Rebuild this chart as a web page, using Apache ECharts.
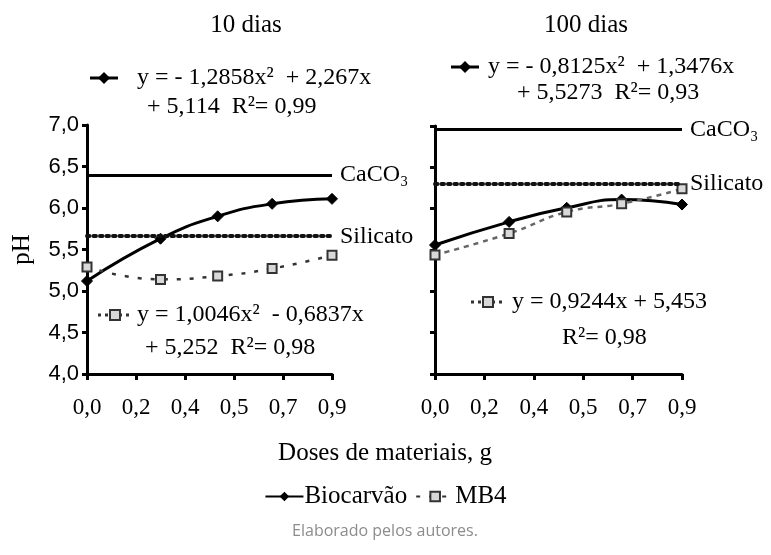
<!DOCTYPE html>
<html>
<head>
<meta charset="utf-8">
<script src="https://cdn.jsdelivr.net/npm/echarts@6/dist/echarts.min.js"></script>
<style>
  html, body { margin: 0; padding: 0; background: #fff; }
  #chart { width: 771px; height: 555px; }
</style>
</head>
<body>
<div id="chart"></div>
<script>
// Doses (g) and measured pH
const doses = [0, 0.27, 0.48, 0.68, 0.9];
const biocarvao10 = [5.12, 5.63, 5.90, 6.05, 6.11];
const mb4_10 = [5.29, 5.14, 5.18, 5.27, 5.43];
const biocarvao100 = [5.56, 5.84, 6.01, 6.11, 6.05];
const mb4_100 = [5.44, 5.70, 5.96, 6.06, 6.24];

// Reference treatments, [10 dias, 100 dias]
const caco3Level = [6.40, 6.96];
const silicatoLevel = [5.66, 6.30];

// Axis ticks
const xStep = 0.18;
const xTickLabels = ['0,0', '0,2', '0,4', '0,5', '0,7', '0,9'];
const yTickLabels = ['4,0', '4,5', '5,0', '5,5', '6,0', '6,5', '7,0'];

const panelTitles = ['10 dias', '100 dias'];
const seriesNames = ['Biocarvão', 'MB4'];

// Regression equations
const eqBio10 = ['y = - 1,2858x²  + 2,267x', '+ 5,114  R²= 0,99'];
const eqMb10 = ['y = 1,0046x²  - 0,6837x', '+ 5,252  R²= 0,98'];
const eqBio100 = ['y = - 0,8125x²  + 1,3476x', '+ 5,5273  R²= 0,93'];
const eqMb100 = ['y = 0,9244x + 5,453', 'R²= 0,98'];

const SERIF = '"Liberation Serif", "DejaVu Serif", serif';
const SANS = '"Liberation Sans", Arial, sans-serif';

const pairs = (ys) => doses.map((d, i) => [d, ys[i]]);

function xAxisFor(gridIndex) {
  return {
    type: 'value', gridIndex, min: 0, max: 0.9, interval: xStep,
    axisLine: { lineStyle: { color: '#000', width: 3 } },
    axisTick: { show: true, length: 6, lineStyle: { color: '#000', width: 3 } },
    axisLabel: {
      margin: 22, color: '#000', fontFamily: SERIF, fontSize: 23,
      formatter: (v) => xTickLabels[Math.round(v / xStep)]
    },
    splitLine: { show: false }
  };
}

function yAxisFor(gridIndex, showLabels) {
  return {
    type: 'value', gridIndex, min: 4, max: 7, interval: 0.5,
    name: showLabels ? 'pH' : '',
    nameLocation: 'middle', nameGap: 52,
    nameTextStyle: { fontFamily: SERIF, fontSize: 25, color: '#000' },
    axisLine: { show: true, lineStyle: { color: '#000', width: 3 } },
    axisTick: { show: true, length: 5, lineStyle: { color: '#000', width: 3 } },
    axisLabel: {
      show: showLabels, margin: 8, color: '#000', fontFamily: SANS, fontSize: 22,
      formatter: (v) => yTickLabels[Math.round((v - 4) / 0.5)]
    },
    splitLine: { show: false }
  };
}

function refLines(caco3, silicato) {
  const lab = { show: true, position: 'end', distance: 8, color: '#000', fontFamily: SERIF, fontSize: 24 };
  return {
    silent: true, symbol: ['none', 'none'], animation: false,
    data: [
      { yAxis: caco3, lineStyle: { color: '#000', width: 3, type: 'solid' },
        label: Object.assign({}, lab, { formatter: 'CaCO₃' }) },
      { yAxis: silicato, lineStyle: { color: '#111', width: 4, type: [2.5, 4], cap: 'round' },
        label: Object.assign({}, lab, { formatter: 'Silicato' }) }
    ]
  };
}

const bioStyle = {
  type: 'line', smooth: true, symbol: 'diamond', symbolSize: 11,
  lineStyle: { color: '#000', width: 3 },
  itemStyle: { color: '#000', borderColor: '#000' }
};
const mbMarker = {
  symbol: 'rect', symbolSize: 9,
  itemStyle: { color: '#d8d8d8', borderColor: '#333', borderWidth: 2 }
};

// Small legend key drawn beside each equation
function keyBio(cx, cy) {
  return {
    type: 'group', children: [
      { type: 'line', shape: { x1: cx - 14, y1: cy, x2: cx + 14, y2: cy }, style: { stroke: '#000', lineWidth: 3 } },
      { type: 'polygon', shape: { points: [[cx, cy - 6], [cx + 6, cy], [cx, cy + 6], [cx - 6, cy]] }, style: { fill: '#000' } }
    ]
  };
}
function keyMb(cx, cy) {
  return {
    type: 'group', children: [
      { type: 'line', shape: { x1: cx - 17, y1: cy, x2: cx + 17, y2: cy }, style: { stroke: '#333', lineWidth: 3, lineDash: [3, 4] } },
      { type: 'rect', shape: { x: cx - 5, y: cy - 5, width: 10, height: 10 }, style: { fill: '#d8d8d8', stroke: '#333', lineWidth: 2 } }
    ]
  };
}
function txt(text, x, y, opts) {
  return {
    type: 'text', x, y,
    style: Object.assign({
      text, fill: '#000', font: '24px ' + SERIF,
      textAlign: 'left', textVerticalAlign: 'middle', verticalAlign: 'middle'
    }, opts || {})
  };
}

const chart = echarts.init(document.getElementById('chart'), null, { renderer: 'canvas' });
chart.setOption({
  animation: false,
  backgroundColor: '#fff',
  grid: [
    { left: 87, top: 125, width: 245, height: 249 },
    { left: 435, top: 126, width: 247, height: 248 }
  ],
  xAxis: [xAxisFor(0), xAxisFor(1)],
  yAxis: [yAxisFor(0, true), yAxisFor(1, false)],
  legend: {
    left: 'center', top: 479, itemWidth: 38, itemHeight: 12, itemGap: 8,
    data: seriesNames, selectedMode: false,
    textStyle: { fontFamily: SERIF, fontSize: 25, color: '#000', padding: [0, 0, 0, -4] }
  },
  series: [
    Object.assign({}, bioStyle, {
      name: seriesNames[0], xAxisIndex: 0, yAxisIndex: 0, data: pairs(biocarvao10),
      markLine: refLines(caco3Level[0], silicatoLevel[0])
    }),
    Object.assign({}, mbMarker, {
      name: seriesNames[1], type: 'line', smooth: true, xAxisIndex: 0, yAxisIndex: 0,
      data: pairs(mb4_10), lineStyle: { color: '#333', width: 2.5, type: [4, 9] }
    }),
    Object.assign({}, bioStyle, {
      name: seriesNames[0], xAxisIndex: 1, yAxisIndex: 1, data: pairs(biocarvao100),
      markLine: refLines(caco3Level[1], silicatoLevel[1])
    }),
    Object.assign({}, mbMarker, {
      name: seriesNames[1], type: 'line', smooth: true, xAxisIndex: 1, yAxisIndex: 1,
      data: pairs(mb4_100), lineStyle: { color: '#666', width: 2.5, type: [5, 5] }
    })
  ],
  graphic: [
    txt(panelTitles[0], 246, 25, { textAlign: 'center', font: '25px ' + SERIF }),
    txt(panelTitles[1], 586, 25, { textAlign: 'center', font: '25px ' + SERIF }),
    keyBio(104, 78), txt(eqBio10[0], 137, 78), txt(eqBio10[1], 147, 107),
    keyMb(115, 315), txt(eqMb10[0], 137, 315), txt(eqMb10[1], 145, 348),
    keyBio(465, 67), txt(eqBio100[0], 488, 67), txt(eqBio100[1], 517, 93),
    keyMb(488, 302), txt(eqMb100[0], 512, 302), txt(eqMb100[1], 562, 338),
    txt('Doses de materiais, g', 385, 453, { textAlign: 'center', font: '25px ' + SERIF }),
    txt('Elaborado pelos autores.', 385, 531, { textAlign: 'center', fill: '#8c8c8c', font: '16px "Open Sans", "Noto Sans", sans-serif' })
  ]
});
</script>
</body>
</html>
